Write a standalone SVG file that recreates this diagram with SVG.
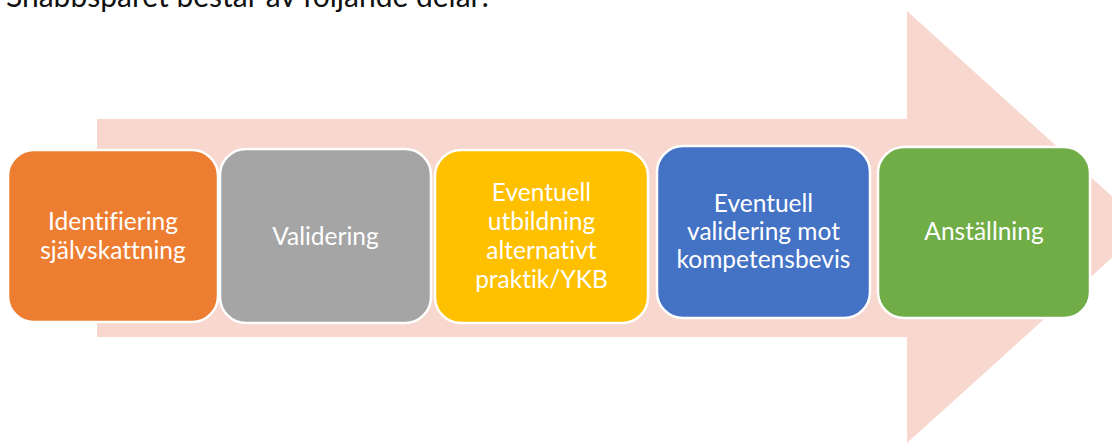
<svg xmlns="http://www.w3.org/2000/svg" width="1112" height="444" viewBox="0 0 1112 444">
<style>
.box{stroke:#fff;stroke-width:2.5}
.t{font-family:Lato,"Liberation Sans",sans-serif;font-size:24.5px;fill:#fff;text-anchor:middle;font-variant-ligatures:none}
.title{font-family:Lato,"Liberation Sans",sans-serif;font-size:30px;fill:#111;font-variant-ligatures:none}
</style>
<rect width="1112" height="444" fill="#fff"/>
<text class="title" x="6" y="7">Snabbspåret består av följande delar:</text>
<g id="arrow">
<polygon points="97,119 907,119 907,11 1146,227 907,443 907,337 97,337" fill="#F8D8CE"/>
</g>
<g id="connectors"></g>
<g id="n1">
<rect class="box" x="8" y="150" width="210" height="172" rx="26" fill="#ED7D31"/>
<text class="t" x="113" y="230">Identifiering</text>
<text class="t" x="113" y="259">självskattning</text>
</g>
<g id="n2">
<rect class="box" x="220" y="149" width="211" height="174" rx="26" fill="#A5A5A5"/>
<text class="t" x="325.5" y="245">Validering</text>
</g>
<g id="n3">
<rect class="box" x="435" y="150" width="213" height="173" rx="26" fill="#FFC000"/>
<text class="t" x="541.5" y="201">Eventuell</text>
<text class="t" x="541.5" y="230">utbildning</text>
<text class="t" x="541.5" y="259">alternativt</text>
<text class="t" x="541.5" y="288">praktik/YKB</text>
</g>
<g id="n4">
<rect class="box" x="657" y="146" width="213" height="172" rx="26" fill="#4472C4"/>
<text class="t" x="763.5" y="212">Eventuell</text>
<text class="t" x="763.5" y="240">validering mot</text>
<text class="t" x="763.5" y="268">kompetensbevis</text>
</g>
<g id="n5">
<rect class="box" x="878" y="147" width="212" height="171" rx="26" fill="#70AD47"/>
<text class="t" x="984" y="240">Anställning</text>
</g>
</svg>
